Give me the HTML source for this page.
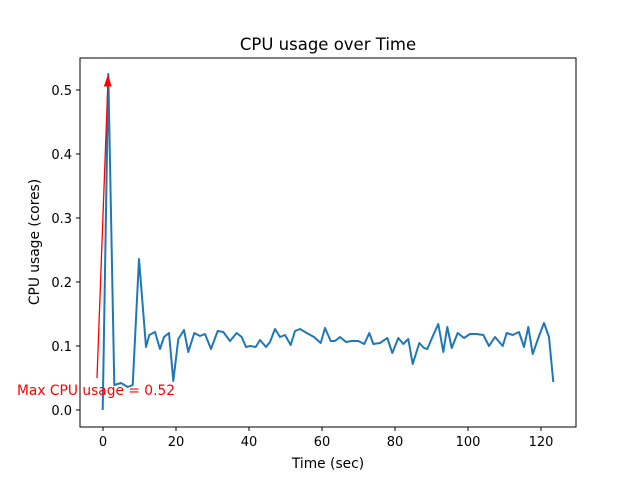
<!DOCTYPE html>
<html><head><style>body{margin:0;background:#fff}</style></head><body>
<svg width="640" height="480" xmlns="http://www.w3.org/2000/svg" font-family="DejaVu Sans, Liberation Sans, sans-serif">
<rect width="640" height="480" fill="#fff"/>
<text x="328" y="50" font-size="16.5" text-anchor="middle">CPU usage over Time</text>
<polyline fill="none" stroke="#1f77b4" stroke-width="2" stroke-linejoin="round" points="102.7,410 108.3,74 114.3,385 121,383 127.7,387 132.7,385 139,259 146,347 149.3,335 155,332 160,349 164,337 169,333 173.3,381 178.3,339 184,330 188.3,352 194.3,333 200,336 205,334 211,349 217.7,331 223.3,332 230,341 236.7,333 241.7,337 246,347 250,346 255.7,347 260,340 266,347 270,342 275,329 280,337 285,335 290.7,345 295,331 300,329 306.7,333 314,337 320.7,343 325,328 330.7,341 335,341 340,337 346,342 351.7,341 358.3,341 364.3,344 369.3,333 373.3,344 380,343 387.3,338 392.3,353 398.3,338 403.3,344 408.3,339 412.7,364 419.3,343 424,348 427.3,349 433.3,335 438.3,324 443.3,352 447.3,327 451.7,348 457.7,333 464,338 470,334 476.7,334 483.3,335 489,346 495,337 502.7,346 506.7,333 512.7,335 519,332 524,347 528.3,327 532.7,354 538.3,338 544,323 549,337 553.3,382"/>
<line x1="97" y1="378" x2="108" y2="80" stroke="red" stroke-width="1.3"/>
<path d="M104.5,86 L108,76 L111,86 Z" fill="red" stroke="red" stroke-width="1"/>
<text x="96" y="395" font-size="13.8" fill="red" text-anchor="middle">Max CPU usage = 0.52</text>
<rect x="80" y="58" width="496" height="369" fill="none" stroke="#000" stroke-width="1"/>
<g stroke="#000" stroke-width="1">
<line x1="103" y1="427" x2="103" y2="431"/><line x1="176" y1="427" x2="176" y2="431"/><line x1="249" y1="427" x2="249" y2="431"/><line x1="322" y1="427" x2="322" y2="431"/><line x1="395" y1="427" x2="395" y2="431"/><line x1="468" y1="427" x2="468" y2="431"/><line x1="541" y1="427" x2="541" y2="431"/>
<line x1="76" y1="410" x2="80" y2="410"/><line x1="76" y1="346" x2="80" y2="346"/><line x1="76" y1="282" x2="80" y2="282"/><line x1="76" y1="218" x2="80" y2="218"/><line x1="76" y1="154" x2="80" y2="154"/><line x1="76" y1="90" x2="80" y2="90"/>
</g>
<g font-size="13" text-anchor="middle">
<text x="103" y="446">0</text><text x="176" y="446">20</text><text x="249" y="446">40</text><text x="322" y="446">60</text><text x="395" y="446">80</text><text x="468" y="446">100</text><text x="541" y="446">120</text>
</g>
<g font-size="13" text-anchor="end">
<text x="72" y="415">0.0</text><text x="72" y="351">0.1</text><text x="72" y="287">0.2</text><text x="72" y="223">0.3</text><text x="72" y="159">0.4</text><text x="72" y="95">0.5</text>
</g>
<text x="328" y="468" font-size="13.8" text-anchor="middle">Time (sec)</text>
<text x="0" y="0" font-size="13.8" text-anchor="middle" transform="translate(39,242) rotate(-90)">CPU usage (cores)</text>
</svg>
</body></html>
